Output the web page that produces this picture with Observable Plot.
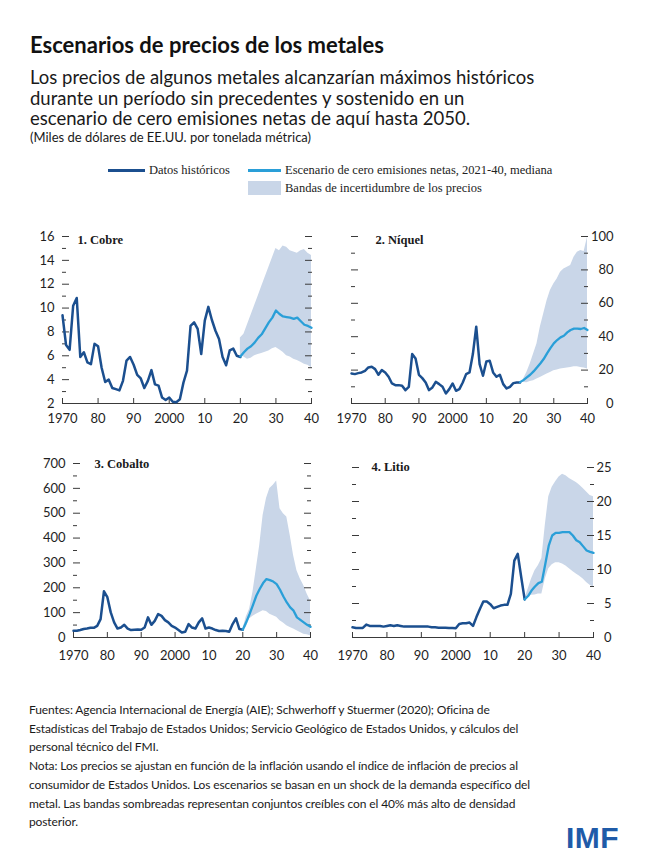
<!DOCTYPE html>
<html>
<head>
<meta charset="utf-8">
<script src="https://cdn.jsdelivr.net/npm/d3@7"></script>
<script src="https://cdn.jsdelivr.net/npm/@observablehq/plot@0.6"></script>
<style>
  html, body { margin: 0; padding: 0; background: #fff; }
  #page { position: relative; width: 650px; height: 862px; overflow: hidden; font-family: Lato, "Open Sans", sans-serif; color: #1a1a1a; }
  .abs { position: absolute; white-space: nowrap; }
  #title { left: 30px; top: 32px; font-size: 22px; line-height: 26px; font-weight: 700; color: #111; }
  #subtitle { left: 30px; top: 67px; font-size: 18.5px; line-height: 20.5px; }
  #units { left: 30px; top: 129px; font-size: 13px; line-height: 16px; }
  .leg { font-family: "Liberation Serif", "DejaVu Serif", serif; font-size: 12.5px; line-height: 16px; color: #222; }
  .sw { position: absolute; }
  #footer { left: 29px; top: 701px; font-size: 12px; line-height: 18.7px; letter-spacing: -0.12px; color: #1a1a1a; }
  #imf { left: 566px; top: 821px; font-family: "Liberation Sans", Arial, sans-serif; font-weight: 700; font-size: 30px; line-height: 34px; color: #1f5ba8; letter-spacing: 0.5px; }
  .panel { position: absolute; }
</style>
</head>
<body>
<div id="page">
  <div id="title" class="abs">Escenarios de precios de los metales</div>
  <div id="subtitle" class="abs">Los precios de algunos metales alcanzarían máximos históricos<br>durante un período sin precedentes y sostenido en un<br>escenario de cero emisiones netas de aquí hasta 2050.</div>
  <div id="units" class="abs">(Miles de dólares de EE.UU. por tonelada métrica)</div>
  <div id="legend"></div>
  <div id="panels"></div>
  <div id="footer" class="abs">Fuentes: Agencia Internacional de Energía (AIE); Schwerhoff y Stuermer (2020); Oficina de<br>Estadísticas del Trabajo de Estados Unidos; Servicio Geológico de Estados Unidos, y cálculos del<br>personal técnico del FMI.<br>Nota: Los precios se ajustan en función de la inflación usando el índice de inflación de precios al<br>consumidor de Estados Unidos. Los escenarios se basan en un shock de la demanda específico del<br>metal. Las bandas sombreadas representan conjuntos creíbles con el 40% más alto de densidad<br>posterior.</div>
  <div id="imf" class="abs">IMF</div>
</div>
<script>
// ---------- DATA ----------
const histYears = d3.range(1970, 2021);   // 1970..2020
const scenYears = d3.range(2020, 2041);   // 2020..2040
const bandYears = d3.range(2020, 2041);   // 2020..2040

const xTicks = [1970, 1980, 1990, 2000, 2010, 2020, 2030, 2040];
const xTickLabels = ["1970", "80", "90", "2000", "10", "20", "30", "40"];

const legendLabels = ["Datos históricos", "Escenario de cero emisiones netas, 2021-40, mediana", "Bandas de incertidumbre de los precios"];
const panelTitles = ["1. Cobre", "2. Níquel", "3. Cobalto", "4. Litio"];

// 1. Cobre
const copperHist = [9.4, 6.9, 6.5, 10.2, 10.85, 5.9, 6.3, 5.45, 5.3, 7.0,
  6.8, 5.0, 3.8, 4.0, 3.3, 3.2, 3.1, 3.9, 5.6, 5.9,
  5.25, 4.4, 4.1, 3.3, 3.9, 4.8, 3.6, 3.5, 2.5, 2.3,
  2.5, 2.15, 2.1, 2.35, 3.75, 4.75, 8.5, 8.8, 8.25, 6.15,
  8.95, 10.1, 9.0, 8.1, 7.4, 5.9, 5.2, 6.45, 6.6, 6.0, 5.9];
const copperScen = [5.95, 6.3, 6.6, 6.8, 7.1, 7.5, 7.8, 8.3, 8.8, 9.2,
  9.8, 9.5, 9.3, 9.25, 9.2, 9.1, 9.2, 8.9, 8.6, 8.5, 8.35];
const copperLo = [6.0, 5.9, 5.7, 5.8, 6.0, 6.1, 6.2, 6.3, 6.4, 6.6,
  6.7, 6.5, 6.3, 6.0, 5.9, 5.7, 5.6, 5.45, 5.3, 5.2, 5.0];
const copperHi = [7.5, 7.8, 8.6, 9.4, 10.2, 11.0, 11.8, 12.6, 13.4, 14.2,
  15.0, 14.8, 15.2, 15.1, 14.8, 14.7, 14.6, 14.8, 14.9, 14.6, 14.4];

// 2. Níquel
const nickelHist = [18, 17.6, 18.2, 18.6, 19.6, 21.6, 22, 20.6, 17.2, 20,
  18.6, 16, 12, 11, 11, 10.6, 8, 10, 29.6, 27,
  17.2, 15.2, 12.6, 8, 9.6, 13, 11.6, 10, 6, 8.6,
  12, 7.6, 8.6, 12.6, 17.6, 18.6, 29.6, 46, 23.6, 16.6,
  25.2, 25.6, 18.6, 16, 17.2, 11.6, 9, 10, 12.2, 12.6, 12.6];
const nickelScen = [12.8, 14, 15.6, 17.2, 19.2, 21.6, 24, 26.6, 30, 33.2,
  36, 38, 39.6, 40.6, 42.6, 44, 44.8, 44.8, 44.6, 45.2, 44];
const nickelLo = [12.6, 12.6, 12.4, 13.2, 13.6, 14.6, 15.6, 16.6, 17.6, 18.6,
  19.6, 20, 20.6, 21, 21.2, 21.6, 22, 22, 21.6, 21.2, 20.6];
const nickelHi = [12.8, 14.5, 18.6, 23.6, 29.6, 35.6, 45.6, 53.6, 61.6, 67.6,
  71.6, 74.6, 78.6, 80.6, 81.6, 82.6, 87.6, 90.6, 91.6, 91, 99.6];

// 3. Cobalto
const cobaltHist = [27, 27, 30, 34, 36, 39, 39, 47, 74, 186,
  162, 101, 61, 36, 40, 51, 36, 30, 31, 32,
  31, 40, 81, 51, 67, 94, 87, 70, 61, 47,
  40, 30, 20, 23, 54, 40, 36, 61, 77, 36,
  40, 36, 30, 26, 27, 26, 23, 54, 77, 34, 31];
const cobaltScen = [31, 61, 94, 130, 168, 195, 219, 235, 231, 225,
  215, 192, 165, 141, 121, 108, 81, 71, 61, 51, 43];
const cobaltLo = [31, 40, 74, 85, 94, 101, 108, 105, 94, 87,
  81, 67, 58, 47, 40, 34, 27, 20, 13, 11, 7];
const cobaltHi = [31, 81, 114, 182, 276, 370, 491, 559, 599, 612,
  630, 518, 498, 485, 411, 330, 269, 235, 209, 175, 148];

// 4. Litio
const lithiumHist = [1.5, 1.4, 1.4, 1.4, 1.9, 1.7, 1.7, 1.7, 1.7, 1.6,
  1.7, 1.8, 1.7, 1.8, 1.7, 1.6, 1.6, 1.6, 1.6, 1.6,
  1.6, 1.6, 1.6, 1.5, 1.5, 1.45, 1.45, 1.45, 1.4, 1.4,
  1.35, 2.0, 2.1, 2.1, 2.2, 1.7, 3.0, 4.2, 5.3, 5.3,
  4.9, 4.3, 4.5, 4.7, 4.8, 4.8, 6.4, 11.3, 12.3, 8.9, 5.6];
const lithiumScen = [5.6, 6.1, 6.9, 7.5, 8.0, 8.2, 10.8, 13.5, 15.0, 15.4,
  15.4, 15.5, 15.5, 15.5, 15.0, 14.3, 14.0, 13.4, 12.8, 12.6, 12.45];
const lithiumLo = [5.6, 5.9, 6.2, 6.25, 6.4, 6.4, 8.6, 10.1, 10.7, 11.0,
  11.0, 10.8, 10.5, 10.1, 9.7, 9.35, 9.0, 8.6, 8.1, 7.7, 7.4];
const lithiumHi = [5.6, 7.1, 8.6, 9.8, 10.6, 11.6, 16.5, 20.7, 22.1, 22.9,
  23.6, 24.0, 23.8, 23.4, 23.1, 22.8, 22.4, 21.9, 21.4, 20.9, 20.7];

const copperMajor = [2, 4, 6, 8, 10, 12, 14, 16];
const copperMinor = [3, 5, 7, 9, 11, 13, 15];
const nickelMajor = [0, 20, 40, 60, 80, 100];
const nickelMinor = [10, 30, 50, 70, 90];
const cobaltMajor = [0, 100, 200, 300, 400, 500, 600, 700];
const cobaltMinor = [50, 150, 250, 350, 450, 550, 650];
const lithiumMajor = [0, 5, 10, 15, 20, 25];
const lithiumMinor = [2.5, 7.5, 12.5, 17.5, 22.5];

// ---------- STYLE ----------
const histColor = "#1b4f8f";
const scenColor = "#2a9fd8";
const bandColor = "#c9d6e8";
const axisColor = "#3a3a3a";
const textColor = "#1f1f1f";

// ---------- LEGEND ----------
const legend = document.getElementById("legend");
function addSwatch(left, top, w, h, color) {
  const s = document.createElement("div");
  s.className = "sw";
  Object.assign(s.style, {left: left + "px", top: top + "px", width: w + "px", height: h + "px", background: color});
  legend.appendChild(s);
}
function addLegText(left, top, txt) {
  const t = document.createElement("div");
  t.className = "abs leg";
  t.style.left = left + "px"; t.style.top = top + "px";
  t.textContent = txt;
  legend.appendChild(t);
}
addSwatch(108, 169, 37, 3, histColor);
addLegText(149, 162, legendLabels[0]);
addSwatch(248, 169, 33, 3, scenColor);
addLegText(285, 162, legendLabels[1]);
addSwatch(248, 181, 33, 14, bandColor);
addLegText(285, 180, legendLabels[2]);

// ---------- PANELS ----------
const xLabelMap = new Map(xTicks.map((t, i) => [t, xTickLabels[i]]));
const fmt = d3.format("~g");

const panels = [
  {title: panelTitles[0], hist: copperHist, scen: copperScen, lo: copperLo, hi: copperHi,
   domain: [2, 16], major: copperMajor, minor: copperMinor, side: "left",
   left: 10, top: 225, width: 315, height: 210, mt: 11, mr: 14, mb: 32, ml: 52,
   labelPad: 8, xPad: 10, tdx: 15, tdy: 3},
  {title: panelTitles[1], hist: nickelHist, scen: nickelScen, lo: nickelLo, hi: nickelHi,
   domain: [0, 100], major: nickelMajor, minor: nickelMinor, side: "right",
   left: 330, top: 225, width: 300, height: 210, mt: 11, mr: 43, mb: 32, ml: 21,
   labelPad: 26, xPad: 10, tdx: 24, tdy: 3},
  {title: panelTitles[2], hist: cobaltHist, scen: cobaltScen, lo: cobaltLo, hi: cobaltHi,
   domain: [0, 700], major: cobaltMajor, minor: cobaltMinor, side: "left",
   left: 10, top: 450, width: 315, height: 220, mt: 13, mr: 15, mb: 33, ml: 63,
   labelPad: 8, xPad: 13, tdx: 21, tdy: 0},
  {title: panelTitles[3], hist: lithiumHist, scen: lithiumScen, lo: lithiumLo, hi: lithiumHi,
   domain: [0, 25], major: lithiumMajor, minor: lithiumMinor, side: "right",
   left: 330, top: 450, width: 300, height: 220, mt: 17, mr: 37, mb: 33, ml: 22,
   labelPad: 18, xPad: 13, tdx: 19, tdy: -1}
];

const holder = document.getElementById("panels");
for (const p of panels) {
  const hist = p.hist.map((v, i) => ({year: histYears[i], value: v}));
  const scen = p.scen.map((v, i) => ({year: scenYears[i], value: v}));
  const band = p.lo.map((v, i) => ({year: bandYears[i], lo: v, hi: p.hi[i]}));
  const other = p.side === "left" ? "right" : "left";
  const chart = Plot.plot({
    width: p.width, height: p.height,
    marginTop: p.mt, marginRight: p.mr, marginBottom: p.mb, marginLeft: p.ml,
    style: {fontFamily: "Lato, 'Open Sans', sans-serif", fontSize: "13px", color: textColor, background: "transparent"},
    x: {domain: [1970, 2040], label: null},
    y: {domain: p.domain, label: null},
    marks: [
      Plot.areaY(band, {x: "year", y1: "lo", y2: "hi", fill: bandColor, curve: "linear"}),
      Plot.ruleY([p.domain[0]], {stroke: axisColor, strokeWidth: 1}),
      Plot.axisX({ticks: xTicks, tickFormat: d => xLabelMap.get(d), tickSize: 5, inset: 5, tickPadding: p.xPad, stroke: axisColor, fill: textColor}),
      // labelled side
      Plot.axisY({anchor: p.side, ticks: p.major, tickFormat: fmt, tickSize: 7, inset: 7, tickPadding: p.labelPad,
        textAnchor: "end", stroke: axisColor, fill: textColor}),
      Plot.axisY({anchor: p.side, ticks: p.minor, tickFormat: () => "", tickSize: 4, inset: 4, stroke: axisColor}),
      // other side (ticks only)
      Plot.axisY({anchor: other, ticks: p.major, tickFormat: () => "", tickSize: 7, inset: 7, stroke: axisColor}),
      Plot.axisY({anchor: other, ticks: p.minor, tickFormat: () => "", tickSize: 4, inset: 4, stroke: axisColor}),
      Plot.lineY(hist, {x: "year", y: "value", stroke: histColor, strokeWidth: 2.5, strokeLinejoin: "round"}),
      Plot.lineY(scen, {x: "year", y: "value", stroke: scenColor, strokeWidth: 2.3, strokeLinejoin: "round"}),
      Plot.text([p.title], {frameAnchor: "top-left", dx: p.tdx, dy: p.tdy, textAnchor: "start", lineAnchor: "middle",
        fontFamily: "'Liberation Serif', 'DejaVu Serif', serif", fontWeight: "bold", fontSize: 12.5, fill: "#1a1a1a"})
    ]
  });
  chart.classList.add("panel");
  chart.style.left = p.left + "px";
  chart.style.top = p.top + "px";
  holder.appendChild(chart);
}
</script>
</body>
</html>
